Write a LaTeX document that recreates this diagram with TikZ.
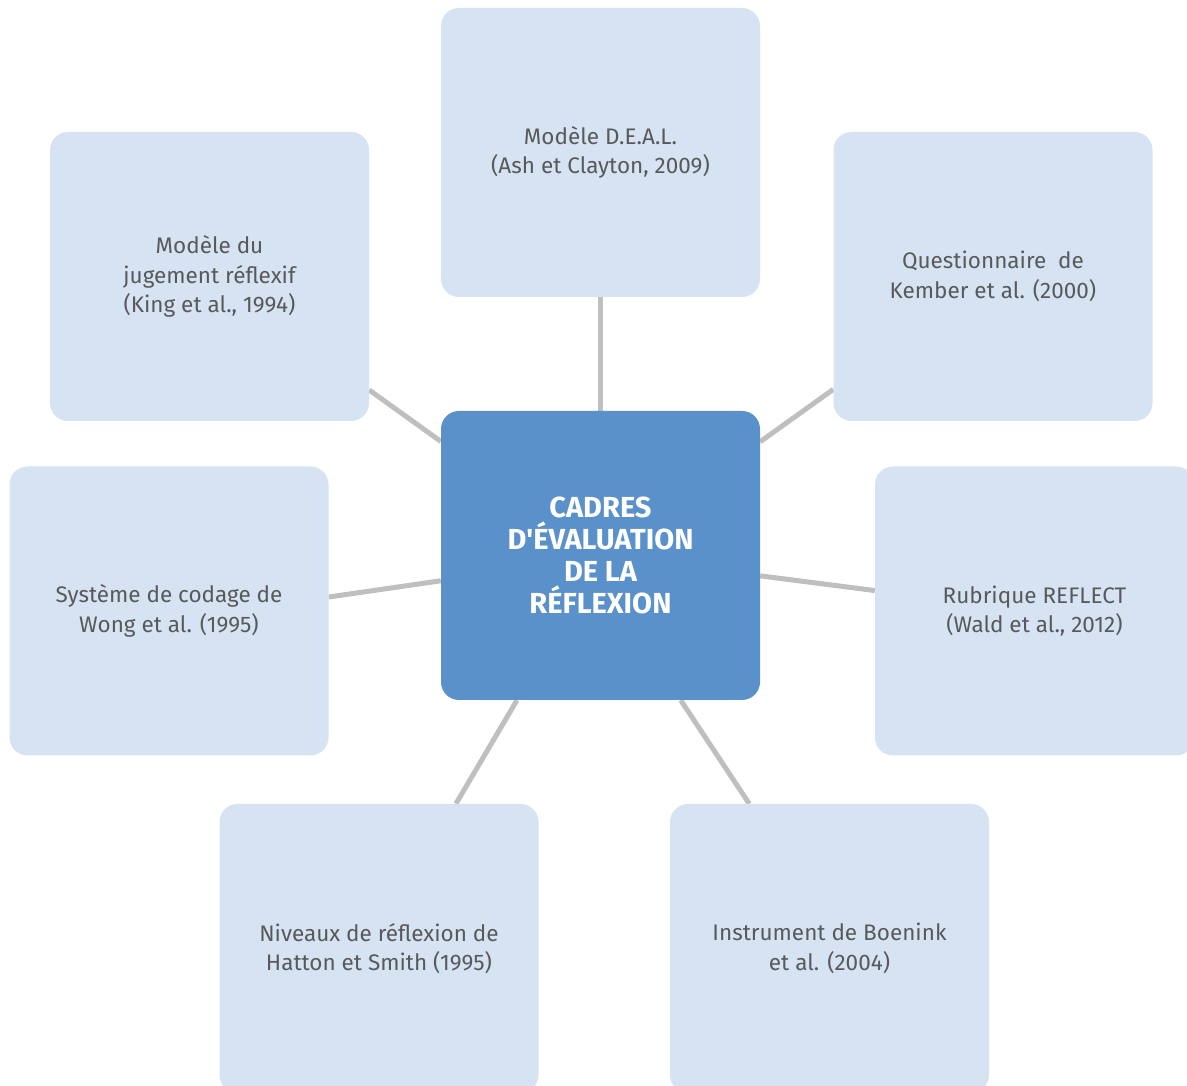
\documentclass[tikz,border=0pt]{standalone}
\usepackage{fontspec}
% family without TeX ligature mapping, so ' stays a straight apostrophe
\newfontfamily\diagfont{Fira Sans}
\definecolor{boxlight}{HTML}{D5E3F3}
\definecolor{boxdark}{HTML}{5B91CB}
\definecolor{txtgray}{HTML}{595959}
\definecolor{linkgray}{HTML}{BFBFBF}
\begin{document}
\begin{tikzpicture}[x=1pt,y=1pt,
  frame/.style={rectangle, rounded corners=18pt, minimum width=319pt,
    minimum height=289pt, inner sep=0pt, align=center, draw=none},
  topic/.style={frame, fill=boxlight, text=txtgray,
    font=\diagfont\fontsize{22.5}{29.5}\selectfont},
  core/.style={frame, fill=boxdark, text=white,
    font=\diagfont\fontsize{29}{32}\selectfont\bfseries},
  link/.style={draw=linkgray, line width=5pt}]
\useasboundingbox (0,0) rectangle (1187,1086);
\clip (0,0) rectangle (1187,1086);

% box centres
\path (600.5,530.5) coordinate (pc)
      (600.5,933.5) coordinate (pt)
      (209.5,809.5) coordinate (ptl)
      (993,809.5)   coordinate (ptr)
      (169,475)     coordinate (pl)
      (1034.5,475)  coordinate (pr)
      (379,137.5)   coordinate (pbl)
      (829.5,137.5) coordinate (pbr);

% invisible frames used only to place connector ends on the box borders
\node[frame] (c)  at (pc)  {};
\node[frame] (t)  at (pt)  {};
\node[frame] (tl) at (ptl) {};
\node[frame] (tr) at (ptr) {};
\node[frame] (l)  at (pl)  {};
\node[frame] (r)  at (pr)  {};
\node[frame] (bl) at (pbl) {};
\node[frame] (br) at (pbr) {};

\draw[link] (c) -- (t);
\draw[link] (c) -- (tl);
\draw[link] (c) -- (tr);
\draw[link] (c.189.1) -- (l.5.4);
\draw[link] (c) -- (r);
\draw[link] (c.240) -- (bl.62.9);
\draw[link] (c.299.7) -- (br.119.4);

% the boxes
\node[topic] (T)  at (pt)  {Modèle D.E.A.L.\\(Ash et Clayton, 2009)};
\node[topic] (TL) at (ptl) {Modèle du\\jugement réflexif\\(King et al., 1994)};
\node[topic] (TR) at (ptr) {Questionnaire\ \ de\\Kember et al. (2000)};
\node[topic] (L)  at (pl)  {Système de codage de\\Wong et al. (1995)};
\node[topic] (R)  at (pr)  {Rubrique REFLECT\\(Wald et al., 2012)};
\node[topic] (BL) at (pbl) {Niveaux de réflexion de\\Hatton et Smith (1995)};
\node[topic] (BR) at (pbr) {Instrument de Boenink\\et al. (2004)};
\node[core]  (C)  at (pc)  {CADRES\\D'ÉVALUATION\\DE LA\\RÉFLEXION};
\end{tikzpicture}
\end{document}
